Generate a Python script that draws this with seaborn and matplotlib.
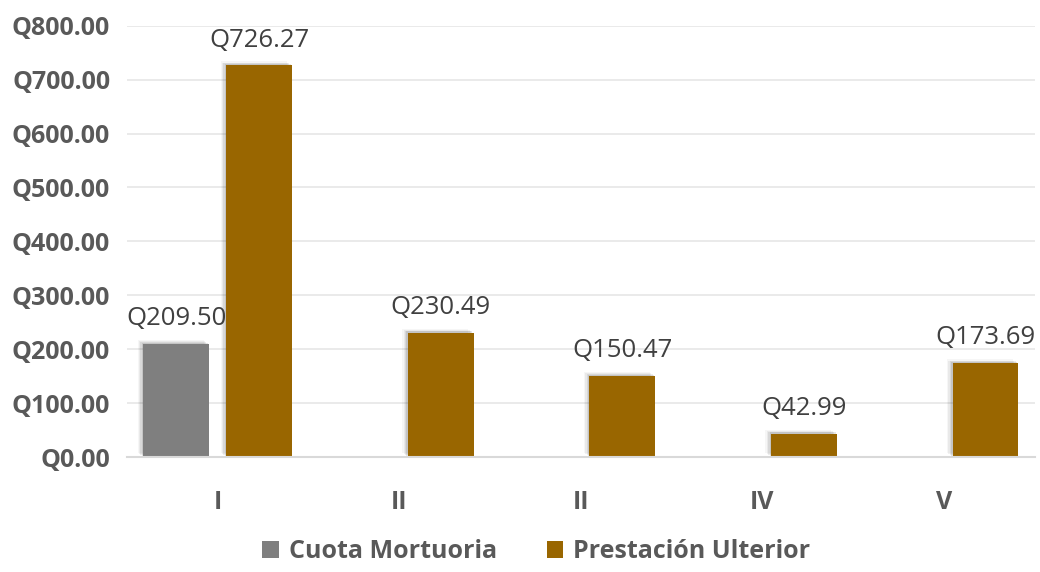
import numpy as np
import pandas as pd
import matplotlib
matplotlib.use("Agg")
import matplotlib.pyplot as plt
import matplotlib.patheffects as pe
import seaborn as sns

# chart data
categories = ["I", "II", "II", "IV", "V"]
cuota_mortuoria = [209.50, np.nan, np.nan, np.nan, np.nan]
prestacion_ulterior = [726.27, 230.49, 150.47, 42.99, 173.69]
series_names = ["Cuota Mortuoria", "Prestación Ulterior"]
colors = ["#7F7F7F", "#996600"]

sns.set_theme(style="white")
plt.rcParams["font.family"] = ["Open Sans", "DejaVu Sans"]

df = pd.DataFrame({
    "pos": list(range(len(categories))) * 2,
    "serie": [series_names[0]] * len(categories) + [series_names[1]] * len(categories),
    "valor": cuota_mortuoria + prestacion_ulterior,
})

fig = plt.figure(figsize=(10.4, 5.72), dpi=100)
ax = fig.add_axes([0.122, 0.201, 0.873, 0.754])

sns.barplot(data=df, x="pos", y="valor", hue="serie", hue_order=series_names,
            palette=colors, width=0.914, gap=0.205, errorbar=None, ax=ax,
            linewidth=0, saturation=1)

# soft shadow up/left of each bar
shadow = [pe.SimplePatchShadow(offset=(-4, 3), shadow_rgbFace="k", alpha=0.04),
          pe.SimplePatchShadow(offset=(-3, 2), shadow_rgbFace="k", alpha=0.06),
          pe.SimplePatchShadow(offset=(-2, 1.5), shadow_rgbFace="k", alpha=0.08),
          pe.SimplePatchShadow(offset=(-1, 1), shadow_rgbFace="k", alpha=0.10),
          pe.Normal()]

for cont in ax.containers:
    for bar in cont:
        h = bar.get_height()
        if np.isnan(h) or h == 0:
            continue
        bar.set_path_effects(shadow)
        ax.text(bar.get_x() + bar.get_width() / 2, h + 24, f"Q{h:,.2f}",
                ha="center", va="bottom", fontsize=18.5, color="#404040")

ax.set_ylim(0, 800)
ax.set_yticks(np.arange(0, 801, 100))
ax.set_yticklabels([f"Q{v:.2f}" for v in np.arange(0, 801, 100)],
                   fontsize=18, fontweight="bold", color="#595959")
ax.set_xticks(range(len(categories)))
ax.set_xticklabels(categories, fontsize=18, fontweight="bold", color="#595959")
ax.tick_params(axis="x", pad=24, length=0)
ax.tick_params(axis="y", pad=12, length=0)
ax.set_xlabel("")
ax.set_ylabel("")
ax.set_xlim(-0.5, len(categories) - 0.5)

ax.yaxis.grid(True, color="#E6E6E6", linewidth=1.2)
ax.set_axisbelow(True)
for s in ["top", "right", "left"]:
    ax.spines[s].set_visible(False)
ax.spines["bottom"].set_color("#D9D9D9")
ax.spines["bottom"].set_linewidth(1.5)

leg = ax.legend(loc="upper center", bbox_to_anchor=(0.451, -0.15), ncol=2,
                frameon=False, handlelength=0.65, handleheight=0.65,
                columnspacing=2.0, handletextpad=0.4, borderpad=0.2,
                prop={"size": 18, "weight": "bold"})
for t in leg.get_texts():
    t.set_color("#595959")

fig.savefig("out.png", dpi=100)
